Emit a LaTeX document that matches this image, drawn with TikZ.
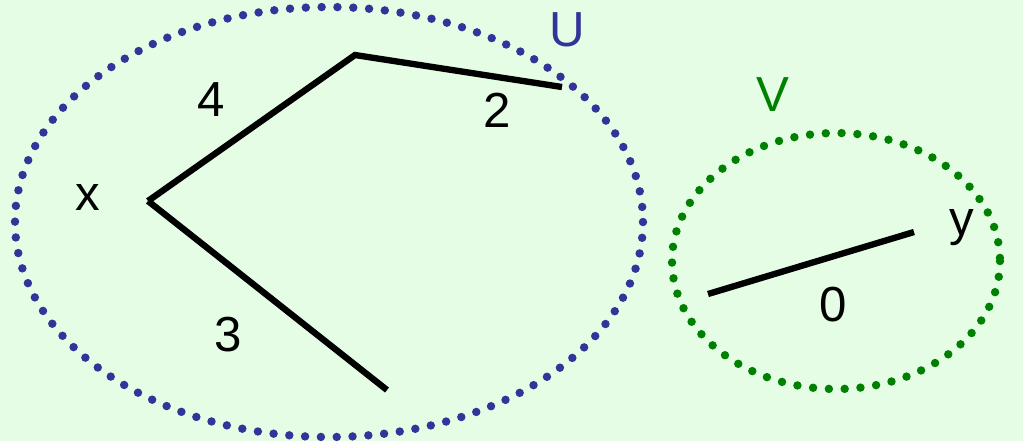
\documentclass[tikz,border=0pt]{standalone}
\usepackage{fontspec}
\setmainfont{Liberation Sans}
\usetikzlibrary{positioning}
\definecolor{PaleGreen}{RGB}{228, 253, 228}
\definecolor{SetBlue}{RGB}{51, 51, 153}
\definecolor{SetGreen}{RGB}{0, 128, 0}

\tikzset{
  dotted set/.style={line width=2.4pt, line cap=round, dash pattern=on 0pt off 4.5pt},
  edge line/.style={line width=1.8pt},
  lbl/.style={font=\fontsize{14pt}{16pt}\selectfont, inner sep=1pt}
}

\begin{document}
\begin{tikzpicture}[x=0.01cm, y=-0.01cm]
    % Background
    \fill[PaleGreen] (0, 0) rectangle (1023, 441);
    \useasboundingbox (0, 0) rectangle (1023, 441);

    % Sets
    \draw[dotted set, SetBlue] (329, 222) ellipse (314 and 215);
    \draw[dotted set, SetGreen] (836, 261) ellipse (164 and 128);
    \node[lbl, SetBlue] (lu) at (567, 30) {U};
    \node[lbl, SetGreen] (lv) at (773, 95) {V};

    % Vertices
    \coordinate (vx) at (148, 201);
    \coordinate (va) at (355, 55);
    \coordinate (vb) at (562, 87);
    \coordinate (vc) at (387, 390);
    \coordinate (vd) at (708, 294);
    \coordinate (vy) at (914, 232);
    \node[lbl] (lx) at (88, 197) {x};
    \node[lbl] (ly) at (962, 228) {y};

    % Edges
    \draw[edge line] (vx) -- (va) -- (vb);
    \draw[edge line] (vx) -- (vc);
    \draw[edge line] (vd) -- (vy);

    % Weights
    \node[lbl] (w4) at (211, 100) {4};
    \node[lbl] (w2) at (497, 110) {2};
    \node[lbl] (w3) at (228, 335) {3};
    \node[lbl] (w0) at (833, 305) {0};
\end{tikzpicture}
\end{document}
